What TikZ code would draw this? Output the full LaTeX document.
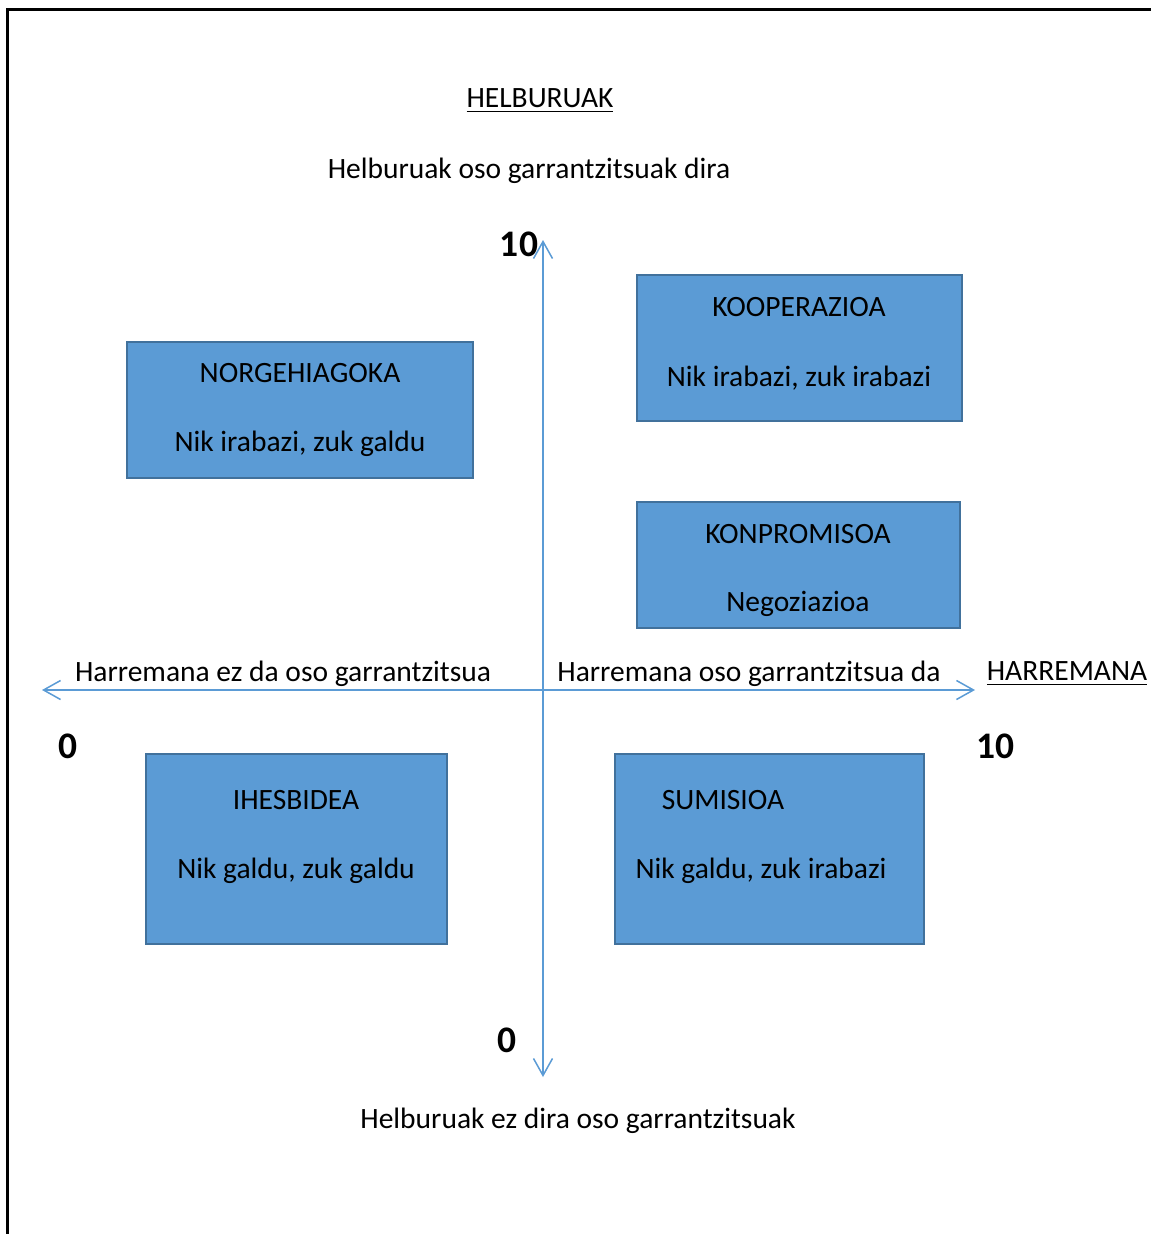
\documentclass[tikz,border=0pt]{standalone}
\usepackage{fontspec}
\setmainfont{Carlito}
\usetikzlibrary{arrows.meta}
\definecolor{boxblue}{HTML}{5B9BD5}
\definecolor{boxedge}{HTML}{41719C}
\tikzset{
    x=0.4pt, y=-0.4pt,
    every node/.style={font=\fontsize{11.8}{14}\selectfont, inner sep=0pt},
    axis/.style={boxblue, line width=0.6pt, {Straight Barb[length=6.8pt, width=7.6pt]}-{Straight Barb[length=6.8pt, width=7.6pt]}},
    box/.style={draw=boxedge, fill=boxblue, line width=0.8pt},
    num/.style={font=\fontsize{15}{18}\selectfont\bfseries},
    title/.style={font=\fontsize{11.8}{14}\selectfont}
}
\begin{document}
\begin{tikzpicture}
        \useasboundingbox (0,0) rectangle (1151,1234);
        \draw[line width=1.2pt] (1151,9) -- (7,9) -- (7,1234);

        \filldraw[box] (127,342) rectangle (473,478);
        \filldraw[box] (637,275) rectangle (962,421);
        \filldraw[box] (637,502) rectangle (960,628);
        \filldraw[box] (146,754) rectangle (447,944);
        \filldraw[box] (615,754) rectangle (924,944);

        \coordinate (top) at (543,240);
        \coordinate (bottom) at (543,1077);
        \coordinate (left) at (42,690);
        \coordinate (right) at (975,690);
        \draw[axis] (bottom) -- (top);
        \draw[axis] (left) -- (right);

        \node[title] (helb) at (540,101) {\underline{HELBURUAK}};
        \node (helbgoi) at (529,171) {Helburuak oso garrantzitsuak dira};
        \node (helbbehe) at (578,1121) {Helburuak ez dira oso garrantzitsuak};
        \node[title] (harr) at (1067,674) {\underline{HARREMANA}};
        \node (harrezk) at (283,674) {Harremana ez da oso garrantzitsua};
        \node (harreskn) at (749,674) {Harremana oso garrantzitsua da};

        \node[num] (ygoi) at (519,244) {10};
        \node[num] (ybehe) at (507,1040) {0};
        \node[num] (xezk) at (68,746) {0};
        \node[num] (xeskn) at (995,746) {10};

        \node (norg) at (300,373) {NORGEHIAGOKA};
        \node (norgb) at (300,444) {Nik irabazi, zuk galdu};
        \node (koop) at (799,307) {KOOPERAZIOA};
        \node (koopb) at (799,378) {Nik irabazi, zuk irabazi};
        \node (konp) at (798,534) {KONPROMISOA};
        \node (konpb) at (798,604) {Negoziazioa};
        \node (ihes) at (296,800) {IHESBIDEA};
        \node (ihesb) at (296,871) {Nik galdu, zuk galdu};
        \node (sumi) at (723,800) {SUMISIOA};
        \node (sumib) at (761,871) {Nik galdu, zuk irabazi};
    \end{tikzpicture}
\end{document}
